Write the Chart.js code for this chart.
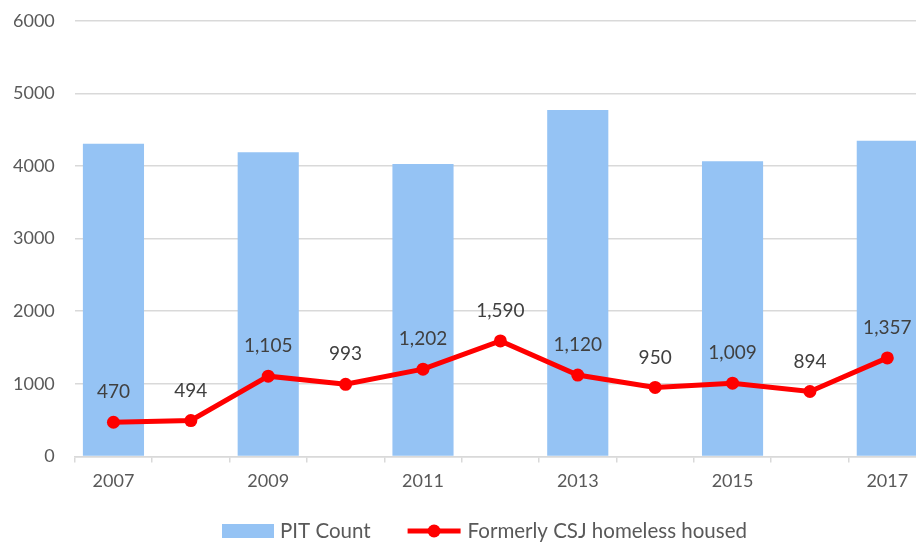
<!DOCTYPE html>
<html>
<head>
<meta charset="utf-8">
<script src="https://cdn.jsdelivr.net/npm/chart.js@4.4.1/dist/chart.umd.min.js"></script>
<style>
  html, body { margin:0; padding:0; background:#fff; overflow:hidden; }
  #wrap { width:977px; height:552px; margin-left:-19px; margin-top:-10px; }
</style>
</head>
<body>
<div id="wrap"><canvas id="pitChart"></canvas></div>
<script>
const years = ["2007","2008","2009","2010","2011","2012","2013","2014","2015","2016","2017"];
const xTickLabels = ["2007","","2009","","2011","","2013","","2015","","2017"];
const pitCount = [4305,null,4191,null,4029,null,4771,null,4066,null,4347];
const housed = [470,494,1105,993,1202,1590,1120,950,1009,894,1357];
const yTicks = [0,1000,2000,3000,4000,5000,6000];

const FONT = "Lato, 'Open Sans', sans-serif";
const TXT = "#595959";

// value labels above the red line
const pointLabels = {
  id: "pointLabels",
  afterDatasetsDraw(chart) {
    const ctx = chart.ctx;
    const meta = chart.getDatasetMeta(1);
    ctx.save();
    ctx.font = "19px " + FONT;
    ctx.fillStyle = "#404040";
    ctx.textAlign = "center";
    ctx.textBaseline = "middle";
    meta.data.forEach((pt, i) => {
      ctx.fillText(housed[i].toLocaleString("en-US"), pt.x, pt.y - 30);
    });
    ctx.restore();
  }
};

// bottom legend drawn like the original (box + line with marker)
const bottomLegend = {
  id: "bottomLegend",
  afterDraw(chart) {
    const ctx = chart.ctx;
    const ds = chart.data.datasets;
    ctx.save();
    ctx.font = "20.5px " + FONT;
    ctx.textBaseline = "middle";
    const t1 = ctx.measureText(ds[0].label).width;
    let x = 241;
    const y = 541;
    ctx.fillStyle = ds[0].backgroundColor;
    ctx.fillRect(x, y - 7, 52, 14);
    x += 58;
    ctx.fillStyle = TXT;
    ctx.fillText(ds[0].label, x, y);
    x += t1 + 37;
    ctx.strokeStyle = ds[1].borderColor;
    ctx.lineWidth = 5;
    ctx.beginPath();
    ctx.moveTo(x, y);
    ctx.lineTo(x + 53, y);
    ctx.stroke();
    ctx.fillStyle = ds[1].borderColor;
    ctx.beginPath();
    ctx.arc(x + 26.5, y, 6.5, 0, Math.PI * 2);
    ctx.fill();
    x += 60;
    ctx.fillStyle = TXT;
    ctx.fillText(ds[1].label, x, y);
    ctx.restore();
  }
};

new Chart(document.getElementById("pitChart"), {
  type: "bar",
  data: {
    labels: years,
    datasets: [
      {
        label: "PIT Count",
        data: pitCount,
        backgroundColor: "#95c3f4",
        categoryPercentage: 1,
        barPercentage: 0.79,
        order: 2
      },
      {
        type: "line",
        label: "Formerly CSJ homeless housed",
        data: housed,
        borderColor: "#ff0000",
        backgroundColor: "#ff0000",
        borderWidth: 5,
        pointRadius: 6.5,
        pointHoverRadius: 6.5,
        pointBackgroundColor: "#ff0000",
        pointBorderWidth: 0,
        tension: 0,
        order: 1
      }
    ]
  },
  options: {
    responsive: true,
    maintainAspectRatio: false,
    animation: false,
    layout: { padding: { left: 12, right: 32, top: 2, bottom: 42 } },
    plugins: { legend: { display: false }, tooltip: { enabled: false } },
    scales: {
      x: {
        offset: true,
        grid: {
          offset: true,
          drawOnChartArea: false,
          drawTicks: true,
          tickLength: 6,
          color: "#d9d9d9",
          lineWidth: 1.5
        },
        border: { color: "#d9d9d9", width: 1.5 },
        ticks: {
          autoSkip: false,
          maxRotation: 0,
          padding: 8,
          color: TXT,
          font: { family: FONT, size: 18 },
          callback: (v, i) => xTickLabels[i]
        }
      },
      y: {
        min: yTicks[0],
        max: yTicks[yTicks.length - 1],
        afterBuildTicks: (axis) => { axis.ticks = yTicks.map(v => ({ value: v })); },
        grid: { color: "#d9d9d9", lineWidth: 1.5, drawTicks: false },
        border: { display: false },
        ticks: {
          padding: 20,
          color: TXT,
          font: { family: FONT, size: 18 },
          callback: (v) => String(v)
        }
      }
    }
  },
  plugins: [pointLabels, bottomLegend]
});
</script>
</body>
</html>
